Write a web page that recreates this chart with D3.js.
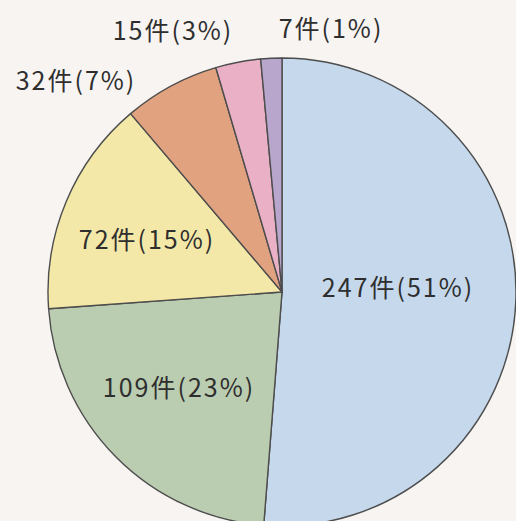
<!DOCTYPE html>
<html>
<head>
<meta charset="utf-8">
<script src="https://cdn.jsdelivr.net/npm/d3@7"></script>
<style>
    html, body { margin: 0; padding: 0; background: #f7f4f2; overflow: hidden; }
</style>
</head>
<body>
<div id="chart"></div>
<script>
// data
const counts = [247, 109, 72, 32, 15, 7];
const percents = [51, 23, 15, 7, 3, 1];
const colors = ['#c5d8ec', '#bbcdb1', '#f4e8a8', '#e1a280', '#eab1c6', '#b9a6cc'];

// label centers (layout only)
const labelPos = [[398, 286], [179, 386], [147, 238], [76, 79], [173, 29], [331, 27]];

const width = 516, height = 521;
const cx = 282, cy = 292, radius = 234;

const svg = d3.select('#chart')
    .append('svg')
    .attr('width', width)
    .attr('height', height);

const pie = d3.pie()
    .sort(null)
    .value(d => d);

const arc = d3.arc()
    .innerRadius(0)
    .outerRadius(radius);

const g = svg.append('g')
    .attr('transform', `translate(${cx},${cy})`);

// slices
g.selectAll('.slice')
    .data(pie(counts))
    .enter()
    .append('path')
    .attr('class', 'slice')
    .attr('d', arc)
    .attr('fill', (d, i) => colors[i])
    .attr('stroke', '#4d4d4d')
    .attr('stroke-width', 1.4)
    .attr('stroke-linejoin', 'round');

// labels
svg.selectAll('.label')
    .data(counts)
    .enter()
    .append('text')
    .attr('class', 'label')
    .attr('x', (d, i) => labelPos[i][0])
    .attr('y', (d, i) => labelPos[i][1])
    .attr('text-anchor', 'middle')
    .attr('dominant-baseline', 'central')
    .attr('font-family', '"Noto Sans CJK JP", "Noto Sans", sans-serif')
    .attr('font-size', '25px')
    .style('letter-spacing', '2px')
    .attr('fill', '#2e2e2e')
    .text((d, i) => `${d}件(${percents[i]}%)`);
</script>
</body>
</html>
